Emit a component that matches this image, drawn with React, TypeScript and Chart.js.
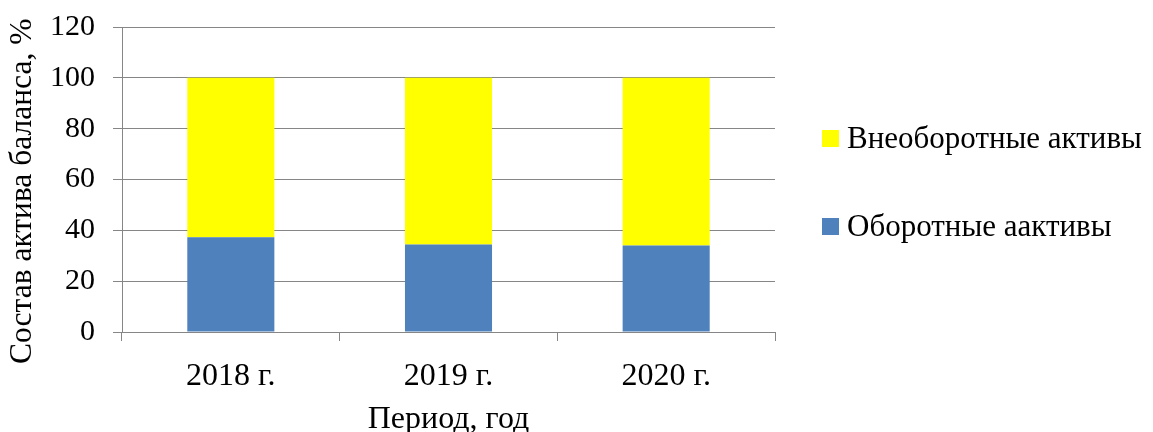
import React, { useEffect, useRef } from "react";
import { Chart, registerables } from "chart.js";

Chart.register(...registerables);

const categories = ["2018 г.", "2019 г.", "2020 г."];
const currentAssets = [37.3, 34.4, 34.0];
const nonCurrentAssets = [62.7, 65.6, 66.0];
const seriesNames = ["Оборотные аактивы", "Внеоборотные активы"];
const yTitle = "Состав актива баланса, %   ";
const xTitle = "Период, год";

const FONT = "'Liberation Serif', 'Times New Roman', serif";
const GRID = "#868686";

const legendPlugin = {
  id: "sideLegend",
  afterDraw(chart: any) {
    const ctx = chart.ctx;
    const ds = chart.data.datasets;
    const order = [1, 0];
    const ys = [138.5, 226.5];
    ctx.save();
    ctx.font = `31px ${FONT}`;
    ctx.textBaseline = "middle";
    ctx.textAlign = "left";
    order.forEach((idx, i) => {
      const d = ds[idx];
      ctx.fillStyle = d.backgroundColor;
      ctx.fillRect(822, ys[i] - 8.5, 17, 17);
      ctx.fillStyle = "#000";
      ctx.fillText(d.label, 847, ys[i] + 1);
    });
    ctx.restore();
  },
};

export default function App() {
  const ref = useRef<HTMLCanvasElement>(null);
  useEffect(() => {
    if (!ref.current) return;
    const chart = new Chart(ref.current, {
      type: "bar",
      data: {
        labels: categories,
        datasets: [
          {
            label: seriesNames[0],
            data: currentAssets,
            backgroundColor: "#4F81BD",
            barPercentage: 0.4,
            categoryPercentage: 1,
          },
          {
            label: seriesNames[1],
            data: nonCurrentAssets,
            backgroundColor: "#FFFF00",
            barPercentage: 0.4,
            categoryPercentage: 1,
          },
        ],
      },
      options: {
        animation: false,
        responsive: false,
        layout: { padding: { top: 27, right: 378, bottom: 0, left: 0 } },
        plugins: { legend: { display: false }, tooltip: { enabled: false } },
        scales: {
          x: {
            stacked: true,
            afterFit: (s: any) => {
              s.height = 100;
              s.paddingLeft = 0;
              s.paddingRight = 0;
            },
            grid: { drawOnChartArea: false, drawTicks: true, tickLength: 9, color: GRID },
            border: { color: GRID, width: 1 },
            ticks: { color: "#000", font: { family: FONT, size: 32 }, padding: 16 },
            title: {
              display: true,
              text: xTitle,
              color: "#000",
              font: { family: FONT, size: 32, lineHeight: 1 },
              padding: { top: 0, bottom: -4 },
            },
          },
          y: {
            stacked: true,
            min: 0,
            max: 120,
            afterFit: (s: any) => {
              s.width = 122;
              s.paddingTop = 0;
              s.paddingBottom = 0;
            },
            grid: { color: GRID, tickLength: 9, drawTicks: true },
            border: { color: GRID, width: 1 },
            ticks: { stepSize: 20, color: "#000", font: { family: FONT, size: 30 }, padding: 18 },
            title: {
              display: true,
              text: yTitle,
              color: "#000",
              font: { family: FONT, size: 31.5 },
              padding: { top: 4, bottom: 0 },
            },
          },
        },
      },
      plugins: [legendPlugin],
    });
    return () => chart.destroy();
  }, []);
  return (
    <div style={{ position: "absolute", left: 0, top: 0, width: 1153, height: 432, background: "#fff" }}>
      <canvas ref={ref} width={1153} height={432} style={{ display: "block" }} />
    </div>
  );
}
